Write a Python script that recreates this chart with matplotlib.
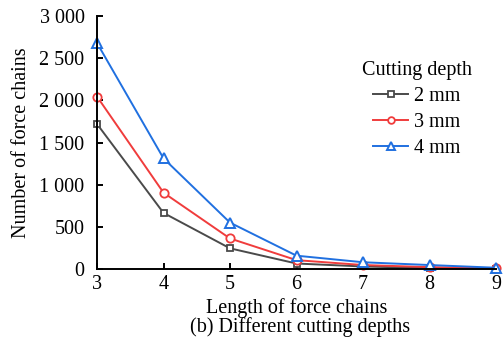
import matplotlib as mpl
mpl.use('Agg')
import matplotlib.pyplot as plt

lengths = [3, 4, 5, 6, 7, 8, 9]
depth_2mm = [1720, 665, 245, 65, 30, 12, 5]
depth_3mm = [2045, 905, 362, 105, 47, 22, 8]
depth_4mm = [2680, 1312, 550, 158, 80, 47, 15]
yticks = [0, 500, 1000, 1500, 2000, 2500, 3000]
ytick_labels = ['0', '500', '1 000', '1 500', '2 000', '2 500', '3 000']

plt.rcParams['font.family'] = ['Liberation Serif', 'DejaVu Serif']
plt.rcParams['font.size'] = 14.5

fig = plt.figure(figsize=(5.04, 3.5), dpi=100)
ax = fig.add_axes([97/504, 1 - 269/350, (496-97)/504, (269-16)/350])

ax.plot(lengths, depth_2mm, color='#4a4a4a', marker='s', mfc='white', ms=5, mew=1.3, lw=1.4, label='2 mm')
ax.plot(lengths, depth_3mm, color='#f03c3c', marker='o', mfc='white', ms=6, mew=1.3, lw=1.4, label='3 mm')
ax.plot(lengths, depth_4mm, color='#2070e0', marker='^', mfc='white', ms=6.5, mew=1.4, lw=1.4, label='4 mm')

ax.set_xlim(3, 9)
ax.set_ylim(0, 3000)
ax.set_xticks(lengths)
ax.set_yticks(yticks)
ax.set_yticklabels(ytick_labels)
ax.spines['top'].set_visible(False)
ax.spines['right'].set_visible(False)
ax.spines['left'].set_linewidth(1.4)
ax.spines['bottom'].set_linewidth(1.4)
ax.tick_params(direction='in', width=1.4, length=4)
ax.tick_params(axis='y', pad=9)
ax.tick_params(axis='x', pad=4)
for ln in ax.lines:
    ln.set_clip_on(False)

ax.set_xlabel('Length of force chains', labelpad=3)
ax.set_ylabel('Number of force chains', labelpad=6)

leg = ax.legend(title='Cutting depth', frameon=False, loc='upper right',
                bbox_to_anchor=(0.985, 0.895), handlelength=1.75, labelspacing=0.35,
                handletextpad=0.3, markerscale=0.8)
leg.get_title().set_fontsize(14.5)

fig.text(300/504, 1 - 327/350, '(b) Different cutting depths', ha='center', va='center', fontsize=14.5)

fig.savefig('out.png', dpi=100)
